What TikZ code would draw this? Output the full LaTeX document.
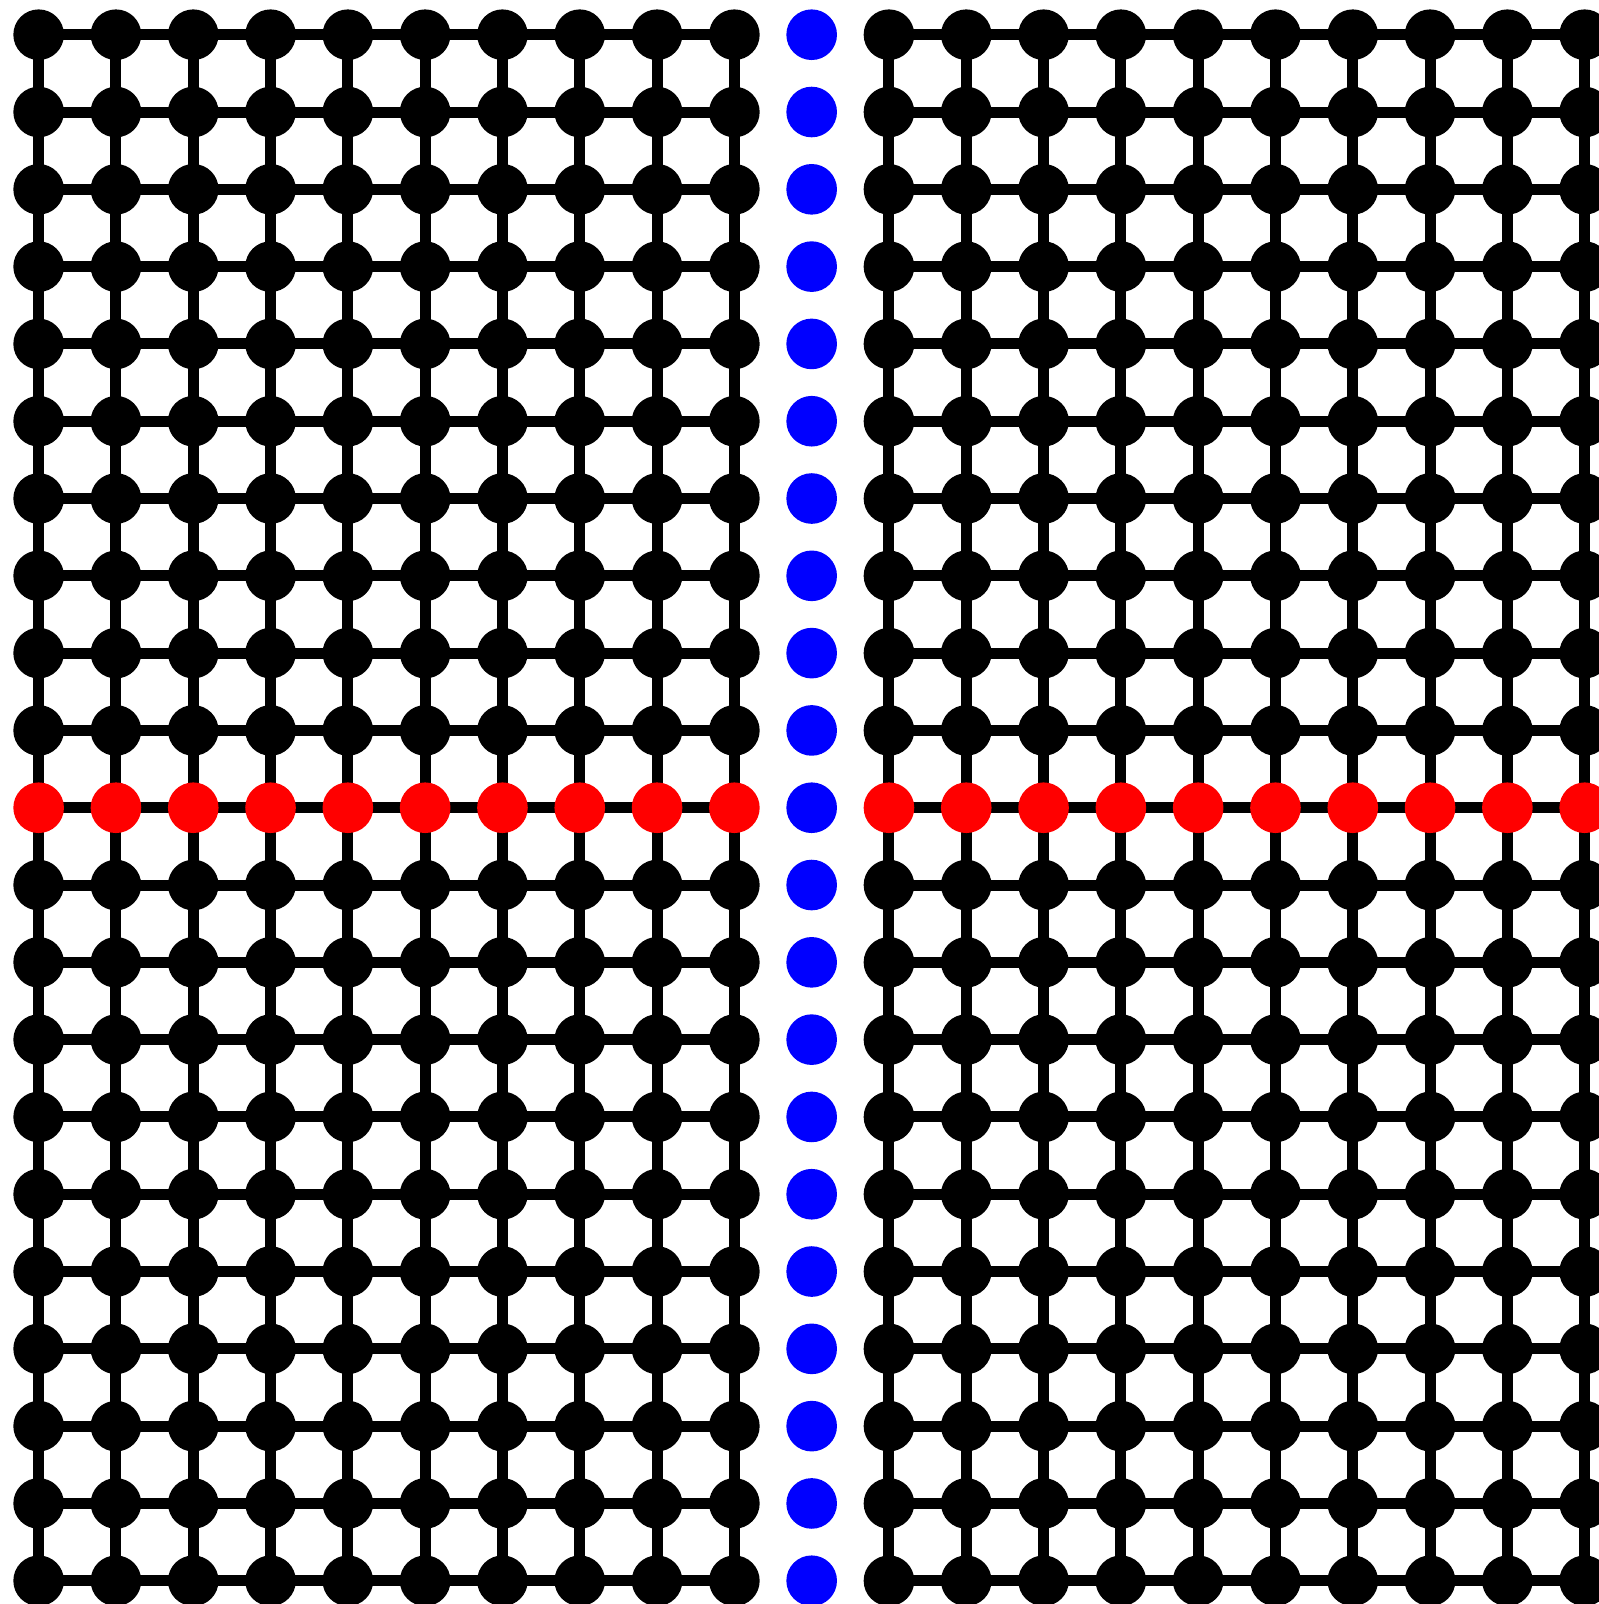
\documentclass[tikz,border=0pt]{standalone}
\usetikzlibrary{backgrounds}

\begin{document}
\begin{tikzpicture}[
    site/.style={circle,fill=black,inner sep=0pt,minimum size=0.655cm},
    bond/.style={line width=0.142cm,black}]
    \useasboundingbox (-0.5,0.449) rectangle (20.185,-20.301);
    % two lattice blocks, the middle row in red
    \foreach \b in {0,11} {
        \foreach \i in {0,...,9} {
            \foreach \j in {0,...,20} {
                \pgfmathtruncatemacro\x{\b+\i}
                \def\col{black}
                \ifnum\j=10 \def\col{red}\fi
                \node[site,fill=\col] (n-\x-\j) at (\x,-\j) {};
            }
        }
    }
    % blue column between the blocks
    \foreach \j in {0,...,20}
        \node[site,fill=blue] (b-\j) at (10,-\j) {};
    % bonds
    \begin{scope}[on background layer]
        \foreach \b in {0,11} {
            \foreach \i in {0,...,8} {
                \foreach \j in {0,...,20} {
                    \pgfmathtruncatemacro\x{\b+\i}
                    \pgfmathtruncatemacro\y{\x+1}
                    \draw[bond] (n-\x-\j.center) -- (n-\y-\j.center);
                }
            }
            \foreach \i in {0,...,9} {
                \foreach \j in {0,...,19} {
                    \pgfmathtruncatemacro\x{\b+\i}
                    \pgfmathtruncatemacro\k{\j+1}
                    \draw[bond] (n-\x-\j.center) -- (n-\x-\k.center);
                }
            }
        }
    \end{scope}
\end{tikzpicture}
\end{document}
